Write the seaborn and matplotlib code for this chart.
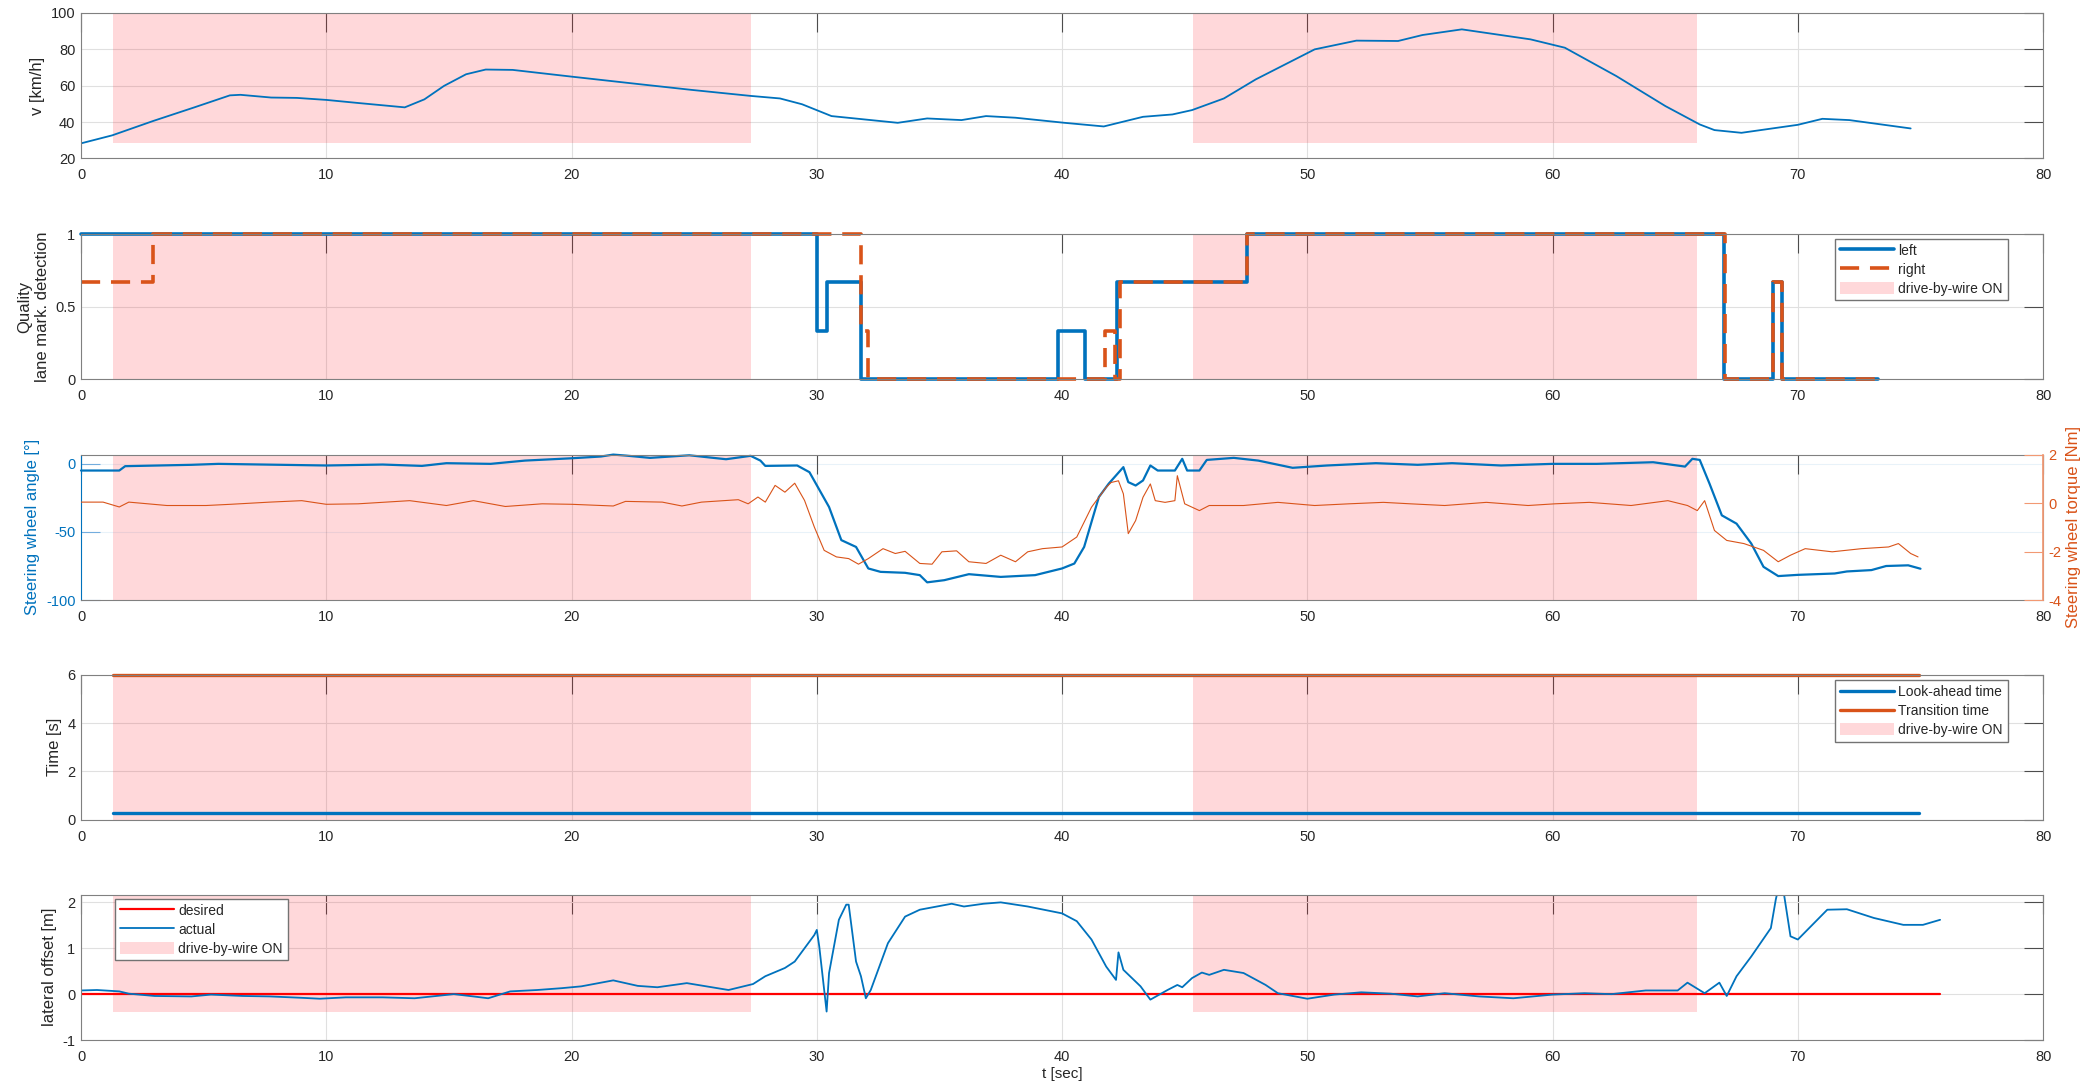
import numpy as np
import pandas as pd
import matplotlib
matplotlib.use('Agg')
import matplotlib.pyplot as plt
import seaborn as sns
from matplotlib.lines import Line2D
from matplotlib.patches import Patch

# drive-by-wire ON intervals [s]
dbw_start = [1.3, 45.35]
dbw_end = [27.3, 65.9]

# vehicle speed
t_v = [0, 1.27, 2.94, 4.6, 6.07, 6.5, 7.75, 8.8, 10, 11.3, 13.2, 14.0, 14.8, 15.7, 16.5, 17.6,
       20, 22.8, 24.9, 27.3, 28.5, 29.4, 30.6, 33.3, 34.5, 35.9, 36.9, 38.1, 40.1, 41.7, 43.3,
       44.5, 45.3, 46.6, 47.9, 50.3, 52.0, 53.7, 54.7, 56.3, 59.1, 60.5, 62.6, 64.6, 66.0, 66.6,
       67.7, 70.0, 71.0, 72.1, 74.6]
v = [28.3, 32.7, 40.6, 48.0, 54.7, 55.0, 53.5, 53.3, 52.2, 50.5, 48.1, 52.5, 59.9, 66.3, 68.9, 68.7,
     65.0, 60.8, 57.7, 54.4, 53.0, 49.8, 43.3, 39.6, 42.0, 41.1, 43.3, 42.4, 39.6, 37.6, 42.9,
     44.2, 46.6, 53.0, 63.5, 80.0, 84.8, 84.6, 87.9, 91.0, 85.5, 80.9, 65.3, 48.8, 38.7, 35.6,
     34.1, 38.5, 41.8, 41.1, 36.5]

# lane marking detection quality (step changes)
t_left = [0, 30.0, 30.4, 31.8, 39.85, 40.95, 42.25, 47.55, 67.0, 69.0, 69.35, 73.25]
q_left = [1, 0.333, 0.667, 0, 0.333, 0, 0.667, 1, 0, 0.667, 0, 0]
t_right = [0, 2.95, 31.8, 32.1, 41.75, 42.15, 42.35, 47.55, 67.05, 69.0, 69.35, 73.25]
q_right = [0.667, 1, 0.333, 0, 0.333, 0, 0.667, 1, 0, 0.667, 0, 0]

# steering wheel angle [deg]
t_ang = [0, 1.56, 1.8, 4.5, 5.6, 10, 12.3, 13.9, 14.9, 16.7, 18.1, 20, 21.2, 21.7, 22.2, 23.2,
         24.8, 26.3, 27.3, 27.7, 27.9, 29.2, 29.7, 30.5, 31.0, 31.6, 32.1, 32.6, 33.6, 34.2, 34.5,
         35.2, 36.2, 37.5, 38.9, 40.0, 40.5, 40.9, 41.5, 41.9, 42.2, 42.5, 42.7, 43.0, 43.3, 43.6,
         43.9, 44.6, 44.9, 45.1, 45.6, 45.9, 47.0, 48.0, 49.4, 50.8, 52.8, 54.5, 55.9, 57.9, 60.0,
         61.8, 64.1, 65.4, 65.7, 66.0, 66.4, 66.9, 67.5, 68.1, 68.6, 69.2, 70.0, 71.5, 72.0, 73.0,
         73.6, 74.5, 75.0]
ang = [-4.9, -4.9, -1.7, -0.7, 0, -1.2, -0.5, -1.5, 0.5, 0, 2.4, 4.1, 5.4, 6.8, 6.1, 4.4,
       6.3, 3.4, 5.9, 2.4, -1.5, -1.2, -6.1, -31.7, -56, -61, -76.8, -79.3, -80, -81.7, -87,
       -85.4, -81, -83, -81.7, -76.8, -73.2, -61, -24.4, -14.6, -8.5, -2.4, -13.4, -15.9, -12.2, -1.2,
       -4.9, -4.9, 3.7, -4.9, -4.9, 2.9, 4.4, 2.4, -2.9, -1.2, 0.5, -0.7, 0.5, -1.2, 0,
       0, 1.2, -2, 3.7, 2.9, -14.6, -37.8, -43.9, -58.5, -75.6, -82.4, -81.5, -80.5, -79, -78,
       -75, -74.5, -77]

# steering wheel torque [Nm]
t_tq = [0, 0.9, 1.56, 1.95, 3.5, 5.1, 6.1, 7.7, 9.0, 10.0, 11.3, 13.4, 14.9, 16.0, 17.3, 18.8,
        20.0, 21.7, 22.2, 23.7, 24.5, 25.3, 26.8, 27.2, 27.6, 27.9, 28.3, 28.7, 29.1, 29.5, 29.9,
        30.3, 30.8, 31.3, 31.7, 32.1, 32.7, 33.2, 33.6, 34.2, 34.7, 35.1, 35.7, 36.2, 36.9, 37.5,
        38.1, 38.6, 39.2, 40.0, 40.6, 41.2, 41.5, 41.8, 42.0, 42.3, 42.5, 42.7, 43.0, 43.3, 43.6,
        43.8, 44.2, 44.6, 44.7, 45.0, 45.6, 46.0, 47.4, 48.8, 50.3, 51.7, 53.1, 54.2, 55.6, 57.3,
        59.0, 60.1, 61.5, 63.2, 64.7, 65.5, 65.9, 66.2, 66.6, 67.1, 67.8, 68.6, 69.2, 69.7, 70.3,
        71.4, 72.6, 73.7, 74.1, 74.6, 74.9]
tq = [0.04, 0.04, -0.16, 0.04, -0.1, -0.1, -0.05, 0.04, 0.1, -0.05, -0.03, 0.1, -0.1, 0.1, -0.14, -0.03,
      -0.05, -0.12, 0.07, 0.04, -0.12, 0.04, 0.14, -0.03, 0.25, 0.04, 0.73, 0.45, 0.82, 0.11, -0.99,
      -1.95, -2.22, -2.29, -2.52, -2.29, -1.88, -2.08, -1.99, -2.49, -2.52, -2.01, -1.97, -2.42, -2.49, -2.15,
      -2.42, -2.01, -1.88, -1.81, -1.4, -0.17, 0.24, 0.65, 0.85, 0.92, 0.38, -1.26, -0.72, 0.24, 0.79,
      0.1, 0.03, 0.1, 1.13, -0.03, -0.31, -0.1, -0.1, 0.03, -0.1, -0.03, 0.03, -0.03, -0.1, 0.03,
      -0.1, -0.03, 0.03, -0.1, 0.1, -0.1, -0.31, 0.1, -1.13, -1.54, -1.67, -1.95, -2.42, -2.15, -1.88,
      -2.01, -1.88, -1.81, -1.67, -2.08, -2.22]

# look-ahead / transition time
t_times = [1.3, 74.95]
lookahead = [0.3, 0.3]
transition = [6, 6]

# lateral offset
t_off = [0, 0.65, 1.56, 1.95, 3, 4.5, 5.3, 6.6, 7.7, 9, 9.74, 10.8, 12.3, 13.6, 15.2, 16, 16.6,
         17.5, 18.6, 19.6, 20.4, 21.7, 22.7, 23.5, 24.7, 26.4, 27.4, 27.9, 28.7, 29.1, 29.9, 30.0,
         30.1, 30.4, 30.5, 30.9, 31.2, 31.3, 31.6, 31.8, 32.0, 32.2, 32.9, 33.6, 34.2, 34.9, 35.5,
         36.0, 36.8, 37.5, 38.6, 40, 40.6, 41.2, 41.8, 42.2, 42.3, 42.5, 43.2, 43.6, 44.3, 44.7,
         44.9, 45.3, 45.7, 46.0, 46.6, 47.4, 48.3, 48.8, 50, 51.1, 52.2, 53.4, 54.5, 55.6, 57.0,
         58.4, 60, 61.3, 62.4, 63.8, 65.1, 65.5, 66.2, 66.8, 67.1, 67.5, 68.1, 68.9, 69.1, 69.2,
         69.4, 69.7, 70.0, 71.2, 72.0, 73.1, 74.3, 75.1, 75.8]
off = [0.08, 0.09, 0.06, 0.01, -0.04, -0.05, -0.01, -0.04, -0.05, -0.08, -0.1, -0.07, -0.07, -0.09, 0, -0.05, -0.09,
       0.06, 0.09, 0.13, 0.17, 0.3, 0.18, 0.15, 0.24, 0.09, 0.22, 0.39, 0.57, 0.71, 1.29, 1.4,
       1.04, -0.38, 0.46, 1.62, 1.95, 1.95, 0.71, 0.39, -0.09, 0.09, 1.11, 1.69, 1.84, 1.91, 1.97,
       1.91, 1.97, 2.0, 1.91, 1.76, 1.59, 1.19, 0.6, 0.31, 0.91, 0.53, 0.17, -0.12, 0.09, 0.2,
       0.15, 0.35, 0.47, 0.42, 0.53, 0.46, 0.2, 0.02, -0.1, -0.01, 0.04, 0.01, -0.05, 0.02, -0.05,
       -0.09, -0.01, 0.02, 0, 0.08, 0.08, 0.25, 0.02, 0.25, -0.04, 0.39, 0.82, 1.44, 2.06, 2.3,
       2.3, 1.26, 1.19, 1.84, 1.85, 1.66, 1.51, 1.51, 1.62]
t_des = [0, 75.8]
des = [0, 0]

df_v = pd.DataFrame({'t': t_v, 'v': v})
df_ql = pd.DataFrame({'t': t_left, 'q': q_left})
df_qr = pd.DataFrame({'t': t_right, 'q': q_right})
df_ang = pd.DataFrame({'t': t_ang, 'a': ang})
df_tq = pd.DataFrame({'t': t_tq, 'T': tq})
df_off = pd.DataFrame({'t': t_off, 'o': off})

BLUE = (0.0, 0.447, 0.741)
ORANGE = (0.85, 0.325, 0.098)
SHADE = dict(facecolor=(1.0, 0.05, 0.1), alpha=0.16, lw=0)

sns.set_theme(style='white')
plt.rcParams['font.family'] = ['Liberation Sans', 'DejaVu Sans']
plt.rcParams['axes.unicode_minus'] = False

fig = plt.figure(figsize=(20.88, 10.92), dpi=100)
L, W, H = 0.0388, 0.9397, 0.1332
bottoms = [0.8549, 0.6525, 0.4505, 0.2491, 0.0476]
axes = [fig.add_axes([L, b, W, H]) for b in bottoms]


def style(ax):
    ax.set_xlim(0, 80)
    ax.set_xticks(range(0, 81, 10))
    ax.grid(True, color='0.88', lw=0.8)
    ax.set_axisbelow(True)
    ax.tick_params(direction='in', length=14, width=0.8, top=True, right=True,
                   colors='0.3', labelcolor='0.15', labelsize=10.5)
    ax.tick_params(axis='x', pad=7)
    ax.tick_params(axis='y', pad=4)
    for s in ax.spines.values():
        s.set_color('0.5')
        s.set_linewidth(0.8)


def shade(ax, y0, y1):
    for a, b in zip(dbw_start, dbw_end):
        ax.fill_between([a, b], y0, y1, **SHADE)


LEG = dict(fontsize=10, frameon=True, fancybox=False, edgecolor='0.45', framealpha=1,
           borderaxespad=0, handlelength=3.9, handletextpad=0.3, borderpad=0.35,
           labelspacing=0.35, handleheight=1.0)
dbw_patch = Patch(**SHADE, label='drive-by-wire ON')

# 1. speed
ax = axes[0]
style(ax)
shade(ax, 28.3, 100)
sns.lineplot(data=df_v, x='t', y='v', ax=ax, color=BLUE, lw=1.3, estimator=None, sort=False)
ax.set_ylim(20, 100)
ax.set_yticks(range(20, 101, 20))
ax.set_xlabel('')
ax.set_ylabel('v [km/h]', fontsize=12)

# 2. lane marking quality
ax = axes[1]
style(ax)
shade(ax, 0, 1)
sns.lineplot(data=df_ql, x='t', y='q', ax=ax, color=BLUE, lw=2.6, estimator=None, sort=False,
             drawstyle='steps-post')
sns.lineplot(data=df_qr, x='t', y='q', ax=ax, color=ORANGE, lw=2.6, estimator=None, sort=False,
             drawstyle='steps-post', linestyle=(0, (5.3, 3)))
for ln in ax.lines:
    ln.set_clip_on(False)
ax.set_ylim(0, 1)
ax.set_yticks([0, 0.5, 1])
ax.set_yticklabels(['0', '0.5', '1'])
ax.set_xlabel('')
ax.set_ylabel('Quality\nlane mark. detection', fontsize=12)
ax.legend([Line2D([], [], color=BLUE, lw=2.6),
           Line2D([], [], color=ORANGE, lw=2.6, ls=(0, (5.3, 3))), dbw_patch],
          ['left', 'right', 'drive-by-wire ON'], loc='upper right',
          bbox_to_anchor=(0.982, 0.966), **LEG)

# 3. steering wheel angle / torque
ax = axes[2]
style(ax)
ax.grid(False)
ax.grid(axis='x', color='0.88', lw=0.8)
ax.grid(axis='y', color=BLUE, alpha=0.09, lw=0.8)
shade(ax, -100, 6.8)
sns.lineplot(data=df_ang, x='t', y='a', ax=ax, color=BLUE, lw=1.6, estimator=None, sort=False)
ax.lines[-1].set_clip_on(False)
ax.set_ylim(-100, 6.8)
ax.set_yticks([-100, -50, 0])
ax.set_xlabel('')
ax.set_ylabel('Steering wheel angle [°]', fontsize=12, color=BLUE)
ax.tick_params(axis='y', right=False, colors=(0.45, 0.68, 0.87), labelcolor=BLUE)
ax.spines['left'].set_color(BLUE)
ax2 = ax.twinx()
sns.lineplot(data=df_tq, x='t', y='T', ax=ax2, color=ORANGE, lw=0.8, estimator=None, sort=False)
ax2.set_ylim(-4, 2)
ax2.set_yticks([-4, -2, 0, 2])
ax2.tick_params(axis='y', direction='in', length=14, width=0.8, colors=(0.95, 0.6, 0.45),
                labelcolor=ORANGE, labelsize=10.5, pad=4)
ax2.set_ylabel('Steering wheel torque [Nm]', fontsize=12, color=ORANGE, labelpad=3)
ax2.spines['right'].set_color((0.95, 0.6, 0.45))
ax2.spines['left'].set_visible(False)
ax2.spines['top'].set_visible(False)
ax2.spines['bottom'].set_visible(False)
ax2.grid(False)

# 4. look-ahead / transition time
ax = axes[3]
style(ax)
shade(ax, 0, 6)
sns.lineplot(x=t_times, y=lookahead, ax=ax, color=BLUE, lw=2.4, estimator=None, sort=False)
sns.lineplot(x=t_times, y=transition, ax=ax, color=ORANGE, lw=2.4, estimator=None, sort=False)
ax.lines[-1].set_clip_on(False)
ax.set_ylim(0, 6)
ax.set_yticks([0, 2, 4, 6])
ax.set_ylabel('Time [s]', fontsize=12)
ax.legend([Line2D([], [], color=BLUE, lw=2.4), Line2D([], [], color=ORANGE, lw=2.4), dbw_patch],
          ['Look-ahead time', 'Transition time', 'drive-by-wire ON'], loc='upper right',
          bbox_to_anchor=(0.982, 0.96), **LEG)

# 5. lateral offset
ax = axes[4]
style(ax)
shade(ax, -0.39, 2.2)
sns.lineplot(x=t_des, y=des, ax=ax, color=(1, 0, 0), lw=1.6, estimator=None, sort=False)
sns.lineplot(data=df_off, x='t', y='o', ax=ax, color=BLUE, lw=1.3, estimator=None, sort=False)
ax.set_ylim(-1, 2.17)
ax.set_yticks([-1, 0, 1, 2])
ax.set_ylabel('lateral offset [m]', fontsize=12)
ax.set_xlabel('t [sec]', fontsize=11, labelpad=2)
ax.legend([Line2D([], [], color=(1, 0, 0), lw=1.6), Line2D([], [], color=BLUE, lw=1.3), dbw_patch],
          ['desired', 'actual', 'drive-by-wire ON'], loc='upper left',
          bbox_to_anchor=(0.0173, 0.97), **LEG)

for ax in axes[:4]:
    ax.set_xlabel('')

fig.savefig('out.png', dpi=100)
